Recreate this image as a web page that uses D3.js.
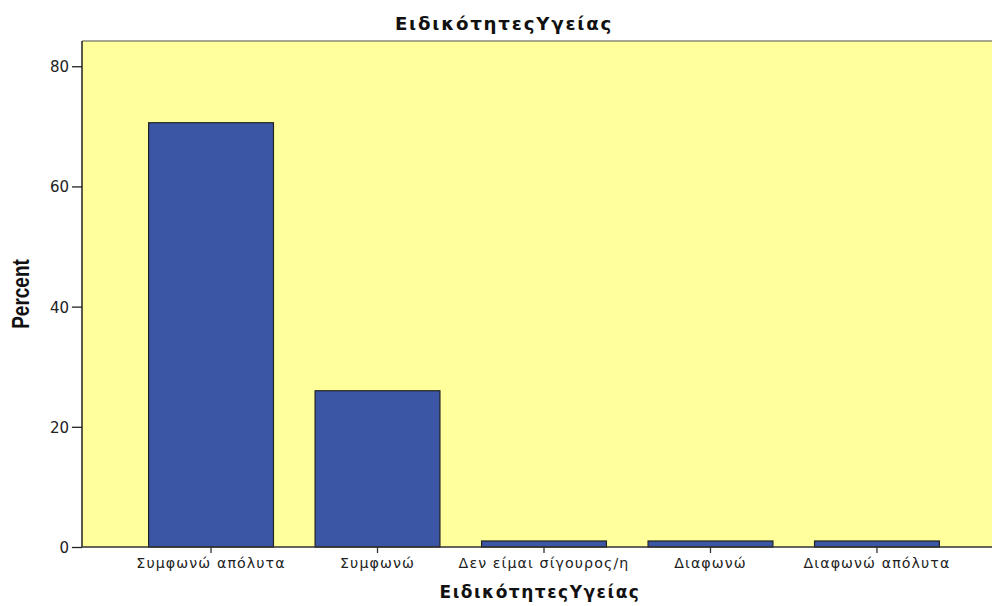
<!DOCTYPE html>
<html>
<head>
<meta charset="utf-8">
<script src="https://cdn.jsdelivr.net/npm/d3@7"></script>
<style>
  body { margin: 0; background: #fff; overflow: hidden; }
  svg { display: block; }
</style>
</head>
<body>
<svg></svg>
<script>
// data
const categories = ['Συμφωνώ απόλυτα', 'Συμφωνώ', 'Δεν είμαι σίγουρος/η', 'Διαφωνώ', 'Διαφωνώ απόλυτα']
const percent = [70.6, 26.0, 1.0, 1.0, 1.0]
const yTicks = [0, 20, 40, 60, 80]
const title = 'ΕιδικότητεςΥγείας'

const width = 992
const height = 606
// chart is wider than the window, right part is cut off
const marge = {top: 41, left: 82, bottom: 59}
const plotW = 924
const plotH = height - marge.top - marge.bottom

const svg = d3.select('svg').attr('width', width).attr('height', height)

const x = d3.scaleBand().domain(categories).range([0, plotW])
    .paddingInner(0.25).paddingOuter(0.4)
const y = d3.scaleLinear().domain([0, 84.2]).range([plotH, 0])

// title, centred on the whole chart
svg.append('text')
    .attr('x', (marge.left + plotW) / 2 + 1)
    .attr('y', 30)
    .attr('text-anchor', 'middle')
    .attr('font-family', 'DejaVu Sans, sans-serif')
    .attr('font-weight', 'bold')
    .attr('font-size', 18.2)
    .attr('letter-spacing', 1.8)
    .attr('fill', '#111')
    .text(title)

let g = svg.append('g').attr('transform', 'translate(' + marge.left + ',' + marge.top + ')')

// background
g.append('rect').attr('width', plotW).attr('height', plotH).attr('fill', '#ffff9c')
g.append('line').attr('x1', 0).attr('x2', plotW).attr('y1', 0).attr('y2', 0)
    .attr('stroke', '#8a8a7a').attr('stroke-width', 1.5)

// bars
g.append('g').selectAll('rect').data(categories).enter().append('rect')
    .attr('x', d => x(d))
    .attr('width', x.bandwidth())
    .attr('y', (d, i) => y(percent[i]))
    .attr('height', (d, i) => plotH - y(percent[i]))
    .attr('fill', '#3c56a6')
    .attr('stroke', '#222')
    .attr('stroke-width', 1.2)

// y axis
const yAxis = g.append('g').call(d3.axisLeft(y).tickValues(yTicks).tickSize(10).tickPadding(3))
yAxis.select('.domain').attr('stroke', '#222').attr('stroke-width', 1.5).attr('d', 'M0,0V' + plotH)
yAxis.selectAll('.tick line').attr('stroke', '#222').attr('stroke-width', 1.3)
yAxis.selectAll('text').attr('font-family', 'DejaVu Sans, sans-serif').attr('font-size', 15)
    .attr('fill', '#222').attr('dy', '0.36em')

// x axis
const xAxis = g.append('g').attr('transform', 'translate(0,' + plotH + ')')
    .call(d3.axisBottom(x).tickSize(6).tickPadding(5))
xAxis.select('.domain').attr('stroke', '#333').attr('stroke-width', 1.5).attr('d', 'M0,0H' + plotW)
xAxis.selectAll('.tick line').attr('stroke', '#333').attr('stroke-width', 1.3)
xAxis.selectAll('text').attr('font-family', 'DejaVu Sans, sans-serif').attr('font-size', 14.2)
    .attr('letter-spacing', 1.1).attr('fill', '#222')

// axis titles
g.append('text')
    .attr('x', plotW / 2 - 4)
    .attr('y', plotH + 51)
    .attr('text-anchor', 'middle')
    .attr('font-family', 'DejaVu Sans, sans-serif')
    .attr('font-weight', 'bold')
    .attr('font-size', 17)
    .attr('letter-spacing', 1.5)
    .attr('fill', '#111')
    .text(title)

svg.append('text')
    .attr('transform', 'translate(29,' + (marge.top + plotH / 2) + ') rotate(-90) scale(1,1.3)')
    .attr('text-anchor', 'middle')
    .attr('font-family', 'Liberation Sans, Arial, sans-serif')
    .attr('font-weight', 'bold')
    .attr('font-size', 19)
    .attr('fill', '#111')
    .text('Percent')
</script>
</body>
</html>
